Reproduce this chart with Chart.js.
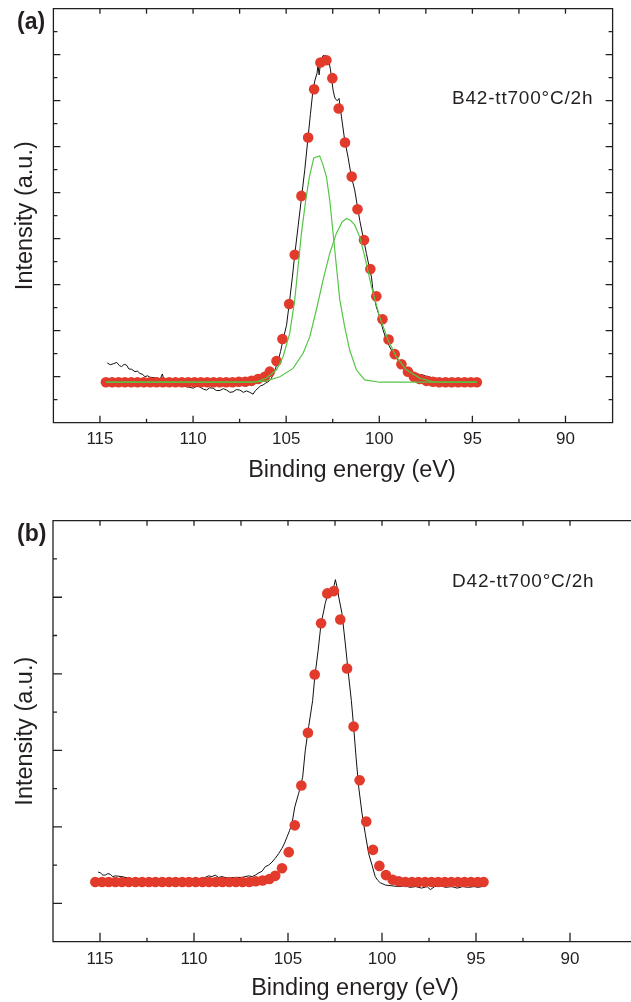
<!DOCTYPE html>
<html>
<head>
<meta charset="utf-8">
<script src="https://cdn.jsdelivr.net/npm/chart.js@4.4.1/dist/chart.umd.min.js"></script>
<style>
  html, body { margin: 0; padding: 0; background: #fff; overflow: hidden; }
  body { width: 631px; height: 1002px; position: relative; font-family: "Liberation Sans", Arial, sans-serif; color: #231f20; }
  canvas { position: absolute; left: 0; }
  #chartA { top: 0; }
  #chartB { top: 500px; }
  .panel { position: absolute; left: 17px; font-weight: bold; font-size: 23px; line-height: 23px; }
  .sample { position: absolute; left: 452px; font-size: 19px; line-height: 19px; letter-spacing: 0.8px; }
</style>
</head>
<body>
<canvas id="chartA" width="631" height="500"></canvas>
<canvas id="chartB" width="680" height="502"></canvas>
<div class="panel" style="top:10px">(a)</div>
<div class="panel" style="top:522px">(b)</div>
<div class="sample" style="top:88px">B42-tt700°C/2h</div>
<div class="sample" style="top:571px">D42-tt700°C/2h</div>
<script>
// tick marks / labels (binding energy in eV, intensity in major-tick units)
const energyTicks = [115, 110, 105, 100, 95, 90];
const energyMinor = [112.5, 107.5, 102.5, 97.5, 92.5];
const intensityMajorA = [1, 2, 3, 4, 5, 6, 7, 8];
const intensityMinorA = [0.5, 1.5, 2.5, 3.5, 4.5, 5.5, 6.5, 7.5, 8.5];
const intensityMajorB = [0, 1, 2, 3, 4];
const intensityMinorB = [0.5, 1.5, 2.5, 3.5, 4.5];
const xTitle = 'Binding energy (eV)';
const yTitle = 'Intensity (a.u.)';

// (a) measured spectrum [energy, intensity]
const specA = [
  [114.61, 1.30], [114.45, 1.26], [114.29, 1.28], [114.10, 1.31], [113.95, 1.24], [113.84, 1.22],
  [113.70, 1.27], [113.57, 1.25], [113.45, 1.17], [113.30, 1.16], [113.12, 1.11], [112.98, 1.12],
  [112.85, 1.07], [112.70, 1.05], [112.59, 1.00], [112.45, 1.02], [112.32, 0.99], [112.15, 0.98],
  [111.96, 0.97], [111.75, 0.96], [111.65, 1.06], [111.58, 0.95], [111.40, 0.93], [111.24, 0.89],
  [111.05, 0.88], [110.88, 0.86], [110.70, 0.84], [110.55, 0.81], [110.35, 0.78], [110.18, 0.77],
  [109.99, 0.75], [109.82, 0.79], [109.64, 0.78], [109.45, 0.73], [109.28, 0.71], [109.10, 0.76],
  [108.92, 0.75], [108.75, 0.70], [108.56, 0.70], [108.38, 0.74], [108.20, 0.71], [108.02, 0.66],
  [107.85, 0.67], [107.68, 0.72], [107.49, 0.71], [107.30, 0.66], [107.13, 0.69], [106.95, 0.66],
  [106.78, 0.62], [106.65, 0.70], [106.51, 0.75], [106.38, 0.80], [106.24, 0.82], [106.10, 0.86],
  [105.97, 0.89], [105.85, 0.93], [105.75, 1.00], [105.60, 1.15], [105.43, 1.35], [105.30, 1.55],
  [105.17, 1.80], [104.98, 2.12], [104.81, 2.67], [104.67, 3.15], [104.54, 3.65], [104.35, 4.30],
  [104.18, 4.88], [104.00, 5.50], [103.82, 6.22], [103.70, 6.70], [103.56, 7.23], [103.45, 7.45],
  [103.34, 7.60], [103.29, 7.78], [103.23, 7.56], [103.14, 7.88], [103.02, 7.98], [102.94, 7.98],
  [102.88, 7.98], [102.84, 7.78], [102.75, 7.96], [102.62, 7.67], [102.48, 7.23], [102.40, 7.08],
  [102.34, 7.03], [102.25, 7.00], [102.16, 7.05], [102.03, 6.65], [101.86, 6.15], [101.68, 5.78],
  [101.50, 5.35], [101.32, 5.06], [101.23, 4.84], [101.05, 4.40], [100.87, 4.04], [100.69, 3.68],
  [100.55, 3.40], [100.42, 3.17], [100.34, 2.88], [100.16, 2.52], [99.98, 2.30], [99.80, 2.02],
  [99.62, 1.80], [99.48, 1.68], [99.35, 1.58], [99.20, 1.50], [99.08, 1.43], [98.91, 1.29],
  [98.78, 1.25], [98.64, 1.22], [98.50, 1.18], [98.37, 1.15], [98.20, 1.10], [98.01, 1.07],
  [97.85, 1.05], [97.66, 1.04], [97.50, 1.01], [97.30, 1.00], [97.12, 0.96], [96.94, 0.97],
  [96.76, 0.93], [96.60, 0.90], [96.45, 0.86], [96.30, 0.82], [96.18, 0.78]
];

// (a) fitted envelope (red dots)
const fitA = [
  [114.68, 0.88], [114.34, 0.88], [114.00, 0.88], [113.66, 0.88], [113.32, 0.88], [112.98, 0.88],
  [112.64, 0.88], [112.30, 0.88], [111.96, 0.88], [111.62, 0.88], [111.28, 0.88], [110.94, 0.88],
  [110.60, 0.88], [110.26, 0.88], [109.92, 0.88], [109.58, 0.88], [109.24, 0.88], [108.90, 0.88],
  [108.56, 0.88], [108.22, 0.88], [107.88, 0.88], [107.54, 0.89], [107.20, 0.89], [106.86, 0.91],
  [106.51, 0.95], [106.15, 1.00], [105.88, 1.11], [105.52, 1.34], [105.20, 1.82], [104.84, 2.58],
  [104.54, 3.65], [104.18, 4.93], [103.82, 6.20], [103.50, 7.25], [103.16, 7.83], [102.84, 7.88],
  [102.52, 7.49], [102.18, 6.83], [101.84, 6.09], [101.48, 5.35], [101.17, 4.64], [100.82, 3.97],
  [100.48, 3.34], [100.16, 2.75], [99.83, 2.25], [99.50, 1.81], [99.17, 1.49], [98.81, 1.27],
  [98.46, 1.11], [98.14, 1.00], [97.83, 0.95], [97.47, 0.91], [97.12, 0.89], [96.78, 0.88],
  [96.44, 0.88], [96.10, 0.88], [95.76, 0.88], [95.42, 0.88], [95.08, 0.88], [94.76, 0.88]
];

// (a) the two fitted components (green)
const compA1 = [
  [114.68, 0.88], [107.20, 0.88], [106.60, 0.89], [106.06, 0.97], [105.52, 1.15], [105.17, 1.43],
  [104.81, 1.94], [104.54, 2.67], [104.36, 3.39], [104.18, 4.12], [103.95, 4.84], [103.75, 5.35],
  [103.52, 5.75], [103.35, 5.78], [103.20, 5.80], [103.02, 5.60], [102.84, 5.35], [102.66, 4.84],
  [102.48, 4.12], [102.30, 3.39], [102.12, 2.67], [101.86, 2.09], [101.59, 1.58], [101.23, 1.15],
  [100.78, 0.93], [99.98, 0.88], [94.76, 0.88]
];
const compA2 = [
  [114.68, 0.88], [107.60, 0.88], [106.78, 0.88], [106.06, 0.91], [105.34, 1.00], [104.63, 1.18],
  [104.09, 1.51], [103.73, 1.87], [103.38, 2.45], [103.02, 3.10], [102.66, 3.68], [102.30, 4.12],
  [102.00, 4.36], [101.77, 4.44], [101.55, 4.40], [101.32, 4.30], [101.05, 4.04], [100.78, 3.61],
  [100.42, 2.96], [99.98, 2.30], [99.53, 1.80], [99.08, 1.43], [98.55, 1.15], [97.83, 0.97],
  [97.12, 0.89], [96.40, 0.88], [94.76, 0.88]
];

// (b) measured spectrum
const specB = [
  [115.10, 0.41], [114.98, 0.40], [114.85, 0.37], [114.72, 0.37], [114.58, 0.39], [114.45, 0.38],
  [114.32, 0.35], [114.19, 0.36], [113.83, 0.35], [113.50, 0.33], [113.10, 0.32], [112.70, 0.31],
  [112.30, 0.32], [111.90, 0.30], [111.50, 0.31], [111.10, 0.30], [110.70, 0.31], [110.30, 0.30],
  [109.90, 0.31], [109.50, 0.33], [109.22, 0.36], [109.05, 0.35], [108.87, 0.37], [108.70, 0.34],
  [108.51, 0.35], [108.20, 0.33], [107.80, 0.34], [107.45, 0.34], [107.09, 0.36], [106.90, 0.35],
  [106.74, 0.37], [106.55, 0.40], [106.38, 0.42], [106.21, 0.48], [106.03, 0.50], [105.85, 0.54],
  [105.68, 0.59], [105.50, 0.65], [105.32, 0.72], [105.18, 0.79], [105.05, 0.87], [104.92, 0.95],
  [104.79, 1.04], [104.64, 1.26], [104.43, 1.44], [104.22, 1.65], [104.08, 2.00], [103.90, 2.31],
  [103.69, 2.65], [103.58, 2.95], [103.40, 3.30], [103.24, 3.66], [103.10, 3.82], [103.02, 3.92],
  [102.87, 4.05], [102.75, 4.08], [102.66, 4.11], [102.55, 4.15], [102.48, 4.23], [102.38, 4.12],
  [102.30, 4.00], [102.13, 3.79], [101.95, 3.39], [101.77, 2.96], [101.63, 2.65], [101.51, 2.31],
  [101.38, 1.91], [101.24, 1.52], [101.06, 1.17], [100.89, 0.91], [100.71, 0.65], [100.53, 0.50],
  [100.36, 0.35], [100.22, 0.30], [100.09, 0.27], [99.82, 0.24], [99.47, 0.23], [99.11, 0.22],
  [98.80, 0.23], [98.50, 0.21], [98.20, 0.22], [97.90, 0.20], [97.60, 0.22], [97.43, 0.18],
  [97.20, 0.22], [96.90, 0.23], [96.60, 0.21], [96.30, 0.22], [96.00, 0.20], [95.70, 0.22],
  [95.40, 0.21], [95.10, 0.22], [94.90, 0.21], [94.68, 0.22]
];

// (b) fitted envelope (red dots)
const fitB = [
  [115.25, 0.28], [114.89, 0.28], [114.54, 0.28], [114.18, 0.28], [113.83, 0.28], [113.47, 0.28],
  [113.11, 0.28], [112.76, 0.28], [112.40, 0.28], [112.05, 0.28], [111.69, 0.28], [111.33, 0.28],
  [110.98, 0.28], [110.62, 0.28], [110.27, 0.28], [109.91, 0.28], [109.55, 0.28], [109.20, 0.28],
  [108.84, 0.28], [108.49, 0.28], [108.13, 0.28], [107.77, 0.28], [107.42, 0.28], [107.06, 0.28],
  [106.71, 0.29], [106.35, 0.30], [105.99, 0.32], [105.68, 0.36], [105.32, 0.46], [104.96, 0.67],
  [104.64, 1.02], [104.29, 1.54], [103.94, 2.23], [103.58, 2.99], [103.24, 3.66], [102.91, 4.05],
  [102.56, 4.08], [102.22, 3.71], [101.86, 3.07], [101.51, 2.31], [101.19, 1.61], [100.84, 1.07],
  [100.48, 0.70], [100.14, 0.49], [99.79, 0.37], [99.43, 0.31], [99.11, 0.29], [98.76, 0.28],
  [98.41, 0.28], [98.06, 0.28], [97.71, 0.28], [97.36, 0.28], [97.01, 0.28], [96.66, 0.28],
  [96.31, 0.28], [95.96, 0.28], [95.61, 0.28], [95.26, 0.28], [94.91, 0.28], [94.60, 0.28]
];

const INK = '#231f20';
const RED = '#e23a2b';
const GREEN = '#55c545';
const FONT = '"Liberation Sans", Arial, sans-serif';

Chart.defaults.font.family = FONT;
Chart.defaults.color = INK;

const toPoints = pairs => pairs.map(([x, y]) => ({x, y}));
const lineSet = (pairs, color, width) => ({
  data: toPoints(pairs), showLine: true, borderColor: color, borderWidth: width,
  pointRadius: 0, pointHoverRadius: 0, fill: false, tension: 0
});
const dotSet = pairs => ({
  data: toPoints(pairs), showLine: false, pointRadius: 5.3, pointHoverRadius: 5.3,
  pointBackgroundColor: RED, pointBorderWidth: 0, borderColor: RED
});

// box frame with inward tick marks, Origin style; x title sits a bit right of centre in the source
const frameTicks = {
  id: 'frameTicks',
  afterDraw(chart, args, opts) {
    const {ctx, chartArea: {left, right, top, bottom}, scales: {x, y}} = chart;
    const seg = (x1, y1, x2, y2) => { ctx.moveTo(x1, y1); ctx.lineTo(x2, y2); };
    ctx.save();
    ctx.strokeStyle = INK;
    ctx.lineWidth = 1.3;
    ctx.beginPath();
    ctx.rect(left, top, right - left, bottom - top);
    energyTicks.forEach(v => {
      const px = x.getPixelForValue(v);
      seg(px, bottom, px, bottom - opts.major);
      seg(px, top, px, top + 5);
    });
    energyMinor.forEach(v => {
      const px = x.getPixelForValue(v);
      seg(px, bottom, px, bottom - 4);
      seg(px, top, px, top + 5);
    });
    opts.yMajor.forEach(v => {
      const py = y.getPixelForValue(v);
      seg(left, py, left + opts.major, py);
      seg(right, py, right - opts.major, py);
    });
    opts.yMinor.forEach(v => {
      const py = y.getPixelForValue(v);
      seg(left, py, left + 4, py);
      seg(right, py, right - 4, py);
    });
    ctx.stroke();

    ctx.fillStyle = INK;
    ctx.font = `23.5px ${FONT}`;
    ctx.textAlign = 'center';
    ctx.textBaseline = 'middle';
    ctx.fillText(xTitle, opts.titleX, bottom + opts.titleDy);
    ctx.restore();
  }
};

const makeChart = (id, datasets, o) => new Chart(document.getElementById(id), {
  type: 'scatter',
  data: {datasets},
  options: {
    responsive: false,
    animation: false,
    devicePixelRatio: 1,
    events: [],
    layout: {padding: o.padding},
    plugins: {
      legend: {display: false},
      tooltip: {enabled: false},
      frameTicks: {major: o.major, yMajor: o.yMajor, yMinor: o.yMinor, titleX: o.titleX, titleDy: o.titleDy}
    },
    scales: {
      x: {
        type: 'linear', reverse: true, min: o.xMin, max: 117.5,
        afterBuildTicks: s => { s.ticks = energyTicks.map(v => ({value: v})); },
        afterFit: s => { s.height = o.xHeight; },
        grid: {display: false, drawTicks: false},
        border: {display: false},
        ticks: {font: {size: 17}, padding: o.tickPad, autoSkip: false, maxRotation: 0},
        title: {display: false, text: xTitle}
      },
      y: {
        type: 'linear', min: o.yMin, max: o.yMax,
        afterFit: s => { s.width = o.yWidth; },
        grid: {display: false, drawTicks: false},
        border: {display: false},
        ticks: {display: false},
        title: {display: true, text: yTitle, font: {size: 23.5}, padding: {top: 11, bottom: 0}}
      }
    }
  },
  plugins: [frameTicks]
});

makeChart('chartA', [
  lineSet(compA1, GREEN, 1.2),
  lineSet(compA2, GREEN, 1.2),
  dotSet(fitA),
  lineSet(specA, '#111', 1)
], {
  padding: {top: 8.7, right: 18.4, left: 0, bottom: 0},
  xMin: 87.47, xHeight: 77.3, yWidth: 53.4, tickPad: 6.3, titleX: 352, titleDy: 47.5,
  yMin: 0, yMax: 9, major: 7, yMajor: intensityMajorA, yMinor: intensityMinorA
});

// panel (b) runs past the right edge of the page, as in the source figure
makeChart('chartB', [
  dotSet(fitB),
  lineSet(specB, '#111', 1)
], {
  padding: {top: 20.7, right: 25.4, left: 0, bottom: 0},
  xMin: 85.5, xHeight: 60.3, yWidth: 53, tickPad: 7.3, titleX: 355, titleDy: 46.5,
  yMin: -0.5, yMax: 5, major: 9, yMajor: intensityMajorB, yMinor: intensityMinorB
});
</script>
</body>
</html>
